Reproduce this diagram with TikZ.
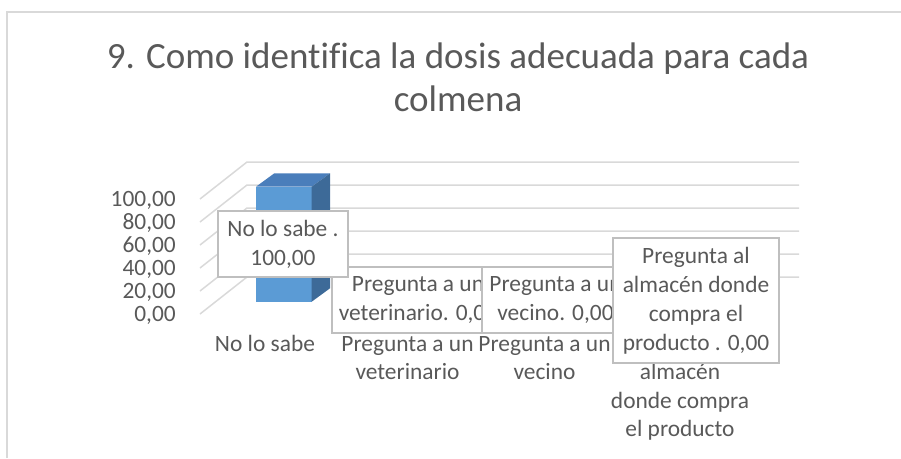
\documentclass[tikz,border=0pt]{standalone}
\usepackage{fontspec}
\setmainfont{Carlito}[Ligatures=NoCommon]
\usepackage{xcolor}
\definecolor{txtgray}{HTML}{595959}
\definecolor{gridgray}{HTML}{D9D9D9}
\definecolor{boxgray}{HTML}{BFBFBF}
\definecolor{barfront}{HTML}{5B9BD5}
\definecolor{bartop}{HTML}{4A7EBB}
\definecolor{barside}{HTML}{3D6A98}
\tikzset{gridline/.style={draw=gridgray, line width=1.5pt},
 axislabel/.style={text=txtgray, font=\fontsize{23.4}{28.5}\selectfont, inner sep=0pt},
 catlabel/.style={axislabel, align=center, anchor=base},
 datalabel/.style={draw=boxgray, line width=1.2pt, fill=white, text=txtgray,
 align=center, font=\fontsize{23.4}{29}\selectfont, inner sep=0pt},
 }

\begin{document}
\begin{tikzpicture}[x=1pt, y=-1pt]
        \useasboundingbox (0,0) rectangle (901,458);
        \draw[gridline] (7,458) -- (7,12) -- (901,12);
        \node[text=txtgray, font=\fontsize{37}{43.4}\selectfont, align=center, anchor=base] (title) at (458,111.7) {9. Como identifica la dosis adecuada para cada\\colmena};
        \foreach \i in {0, 1, 2, 3, 4, 5} {
            \pgfmathsetmacro\gy{277-23*\i}
            \pgfmathtruncatemacro\val{20*\i}
            \draw[gridline] (200,\gy+37) -- (247,\gy) -- (799,\gy);
            \node[axislabel, anchor=base east] (ylab\i) at (176,\gy+44.7) {\val,00};
        }
        \fill[barfront] (256,186.7) rectangle (311.7,301.7);
        \fill[bartop] (256,186.7) -- (274.3,173.3) -- (330,173.3) -- (311.7,186.7) -- cycle;
        \fill[barside] (311.7,186.7) -- (330,173.3) -- (330,288.3) -- (311.7,301.7) -- cycle;
        \node[catlabel] (cat1) at (265,351) {No lo sabe};
        \node[catlabel] (cat2) at (407.5,379.5) {Pregunta a un\\veterinario};
        \node[catlabel] (cat3) at (544.5,379.5) {Pregunta a un\\vecino};
        \node[catlabel] (cat4) at (680,436.5) {Pregunta al\\almacén\\donde compra\\el producto};
        \node[datalabel, minimum width=172pt, minimum height=66pt] (val2) at (418,300) {Pregunta a un\\veterinario. 0,00};
        \node[datalabel, minimum width=147pt, minimum height=66pt] (val3) at (555.5,300) {Pregunta a un\\vecino. 0,00};
        \node[datalabel, minimum width=166pt, minimum height=125pt] (val4) at (696,300.5) {Pregunta al\\almacén donde\\compra el\\producto . 0,00};
        \node[datalabel, minimum width=130pt, minimum height=66pt] (val1) at (283,244) {No lo sabe .\\100,00};
    \end{tikzpicture}
\end{document}
